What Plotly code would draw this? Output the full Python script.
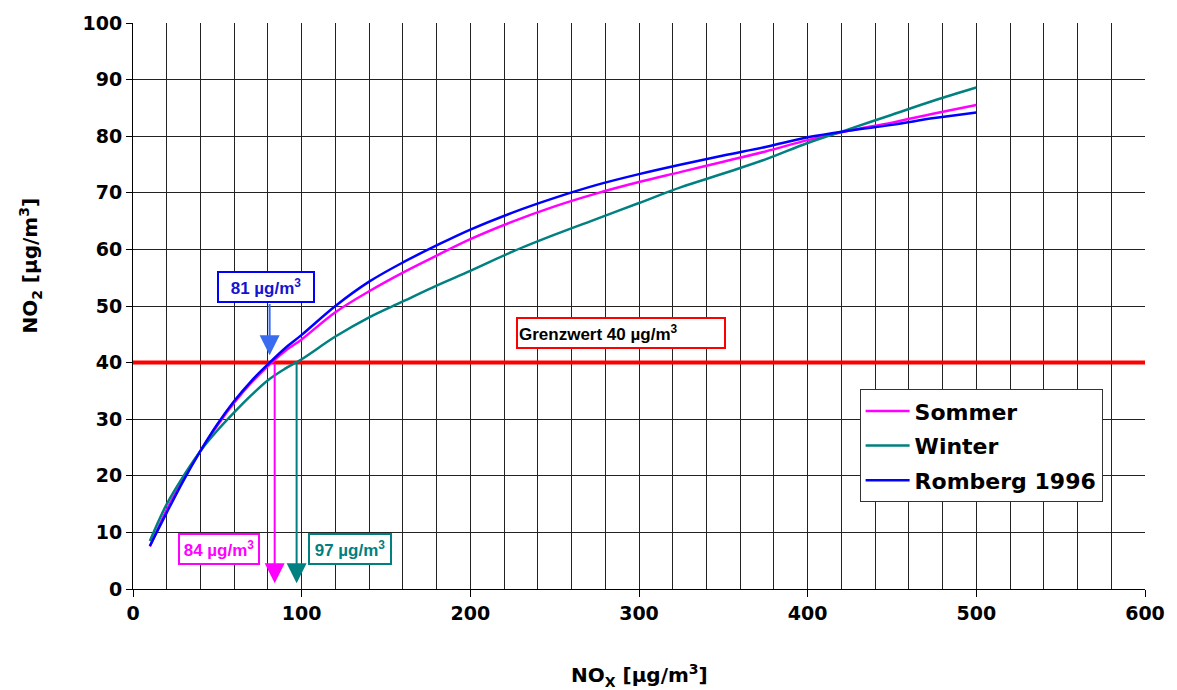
import plotly.graph_objects as go

# ---- data ----
nox = [10, 20, 30, 40, 50, 60, 70, 80, 90, 100, 120, 140, 160, 180, 200, 225, 250,
       275, 300, 325, 350, 375, 400, 425, 450, 475, 500]
sommer = [7.5, 14.0, 19.5, 24.4, 28.9, 32.9, 36.4, 39.4, 42.0, 44.1, 48.9, 52.6,
          55.9, 58.9, 61.8, 64.9, 67.6, 69.9, 71.9, 73.7, 75.5, 77.3, 79.3, 81.0,
          82.4, 84.0, 85.5]
winter = [8.5, 15.0, 20.0, 24.4, 28.0, 31.2, 34.2, 36.9, 38.9, 40.6, 44.6, 48.0,
          50.8, 53.6, 56.2, 59.6, 62.6, 65.4, 68.2, 71.0, 73.4, 75.9, 78.8, 81.3,
          83.8, 86.3, 88.6]
romberg = [7.6, 13.5, 19.2, 24.4, 29.1, 33.2, 36.7, 39.7, 42.5, 44.9, 50.0, 54.3,
           57.7, 60.7, 63.5, 66.5, 69.1, 71.4, 73.3, 75.0, 76.6, 78.1, 79.8, 81.0,
           82.0, 83.2, 84.2]
series_names = ["Sommer", "Winter", "Romberg 1996"]
series_colors = ["#FF00FF", "#008080", "#0000FF"]

grenzwert = 40
x_range = [0, 600]
crossing_nox = [81, 84, 97]          # Romberg, Sommer, Winter
crossing_labels = ["81 µg/m<sup>3</sup>", "84 µg/m<sup>3</sup>", "97 µg/m<sup>3</sup>"]
x_ticks = [0, 100, 200, 300, 400, 500, 600]
y_ticks = list(range(0, 101, 10))

FONT = "Arial, Liberation Sans, sans-serif"
WIDE = "DejaVu Sans, Arial, sans-serif"

fig = go.Figure()

# limit line
fig.add_trace(go.Scatter(x=x_range, y=[grenzwert, grenzwert], mode="lines",
                         line=dict(color="#FF0000", width=4), showlegend=False,
                         hoverinfo="skip"))

for i, (name, ys, col) in enumerate(zip(series_names, [sommer, winter, romberg], series_colors)):
    fig.add_trace(go.Scatter(x=nox, y=ys, mode="lines", name=name,
                             legendgroup=str(i),
                             line=dict(color=col, width=2.5, shape="spline", smoothing=1.0)))

annotations = []
# Grenzwert box
annotations.append(dict(x=289.6, y=45.2, xref="x", yref="y", showarrow=False,
                        text="Grenzwert 40 µg/m<sup>3</sup>", align="left",
                        width=204, height=26,
                        font=dict(family=FONT, size=17, color="black", weight="bold"),
                        bordercolor="#FF0000", borderwidth=2, bgcolor="white", borderpad=1))
# Romberg box and arrow
annotations.append(dict(x=78.6, y=53.4, xref="x", yref="y", showarrow=False,
                        text=crossing_labels[0], width=92, height=26,
                        font=dict(family=FONT, size=17, color="#1414D0", weight="bold"),
                        bordercolor="#0000FF", borderwidth=2, bgcolor="white", borderpad=1))
annotations.append(dict(x=crossing_nox[0], y=41.3, xref="x", yref="y",
                        ax=crossing_nox[0], ay=50.6, axref="x", ayref="y",
                        text="", showarrow=True, arrowhead=2, arrowsize=2.0,
                        arrowwidth=2, arrowcolor="#3A6CF0", standoff=0))
# Sommer box and arrow
annotations.append(dict(x=50.8, y=7.1, xref="x", yref="y", showarrow=False,
                        text=crossing_labels[1], width=76, height=26,
                        font=dict(family=FONT, size=17, color="#FF00FF", weight="bold"),
                        bordercolor="#FF00FF", borderwidth=2, bgcolor="white", borderpad=1))
annotations.append(dict(x=crossing_nox[1], y=1.0, xref="x", yref="y",
                        ax=crossing_nox[1], ay=grenzwert, axref="x", ayref="y",
                        text="", showarrow=True, arrowhead=2, arrowsize=2.0,
                        arrowwidth=2, arrowcolor="#FF00FF", standoff=0))
# Winter box and arrow
annotations.append(dict(x=128.8, y=7.1, xref="x", yref="y", showarrow=False,
                        text=crossing_labels[2], width=78, height=26,
                        font=dict(family=FONT, size=17, color="#008080", weight="bold"),
                        bordercolor="#008080", borderwidth=2, bgcolor="white", borderpad=1))
annotations.append(dict(x=crossing_nox[2], y=1.0, xref="x", yref="y",
                        ax=crossing_nox[2], ay=grenzwert, axref="x", ayref="y",
                        text="", showarrow=True, arrowhead=2, arrowsize=2.0,
                        arrowwidth=2, arrowcolor="#008080", standoff=0))
# axis titles
annotations.append(dict(x=0.5, y=-0.152, xref="paper", yref="paper", showarrow=False,
                        text="NO<sub>X</sub> [µg/m<sup>3</sup>]", yanchor="middle",
                        font=dict(family=WIDE, size=20, color="black", weight="bold")))
annotations.append(dict(x=-0.101, y=0.571, xref="paper", yref="paper", showarrow=False,
                        text="NO<sub>2</sub> [µg/m<sup>3</sup>]", textangle=-90,
                        xanchor="center", yanchor="middle",
                        font=dict(family=WIDE, size=20, color="black", weight="bold")))

fig.update_layout(
    width=1177, height=690,
    margin=dict(l=133, r=29, t=22, b=101),
    paper_bgcolor="white", plot_bgcolor="white",
    font=dict(family=FONT, color="black"),
    showlegend=True,
    legend=dict(x=0.718, y=0.353, xanchor="left", yanchor="top",
                bgcolor="white", bordercolor="#333333", borderwidth=1,
                font=dict(family=WIDE, size=22, color="black", weight="bold"),
                tracegroupgap=3, itemwidth=44),
    annotations=annotations,
)

fig.update_xaxes(range=x_range, tickvals=x_ticks, ticks="outside", ticklen=7,
                 tickcolor="black", showline=True, linecolor="black", linewidth=1,
                 showgrid=True, gridcolor="#222222", gridwidth=1,
                 minor=dict(dtick=20, showgrid=True, gridcolor="#222222", gridwidth=1),
                 tickfont=dict(family=WIDE, size=19, color="black", weight="bold"),
                 zeroline=False)
fig.update_yaxes(range=[0, 100], tickvals=y_ticks, ticks="outside", ticklen=6,
                 tickcolor="black", showline=True, linecolor="black", linewidth=1,
                 showgrid=True, gridcolor="#222222", gridwidth=1,
                 tickfont=dict(family=WIDE, size=19, color="black", weight="bold"),
                 zeroline=False)

fig.write_html("out.html", config={"displayModeBar": False},
               post_script="document.body.style.margin='0px';")
